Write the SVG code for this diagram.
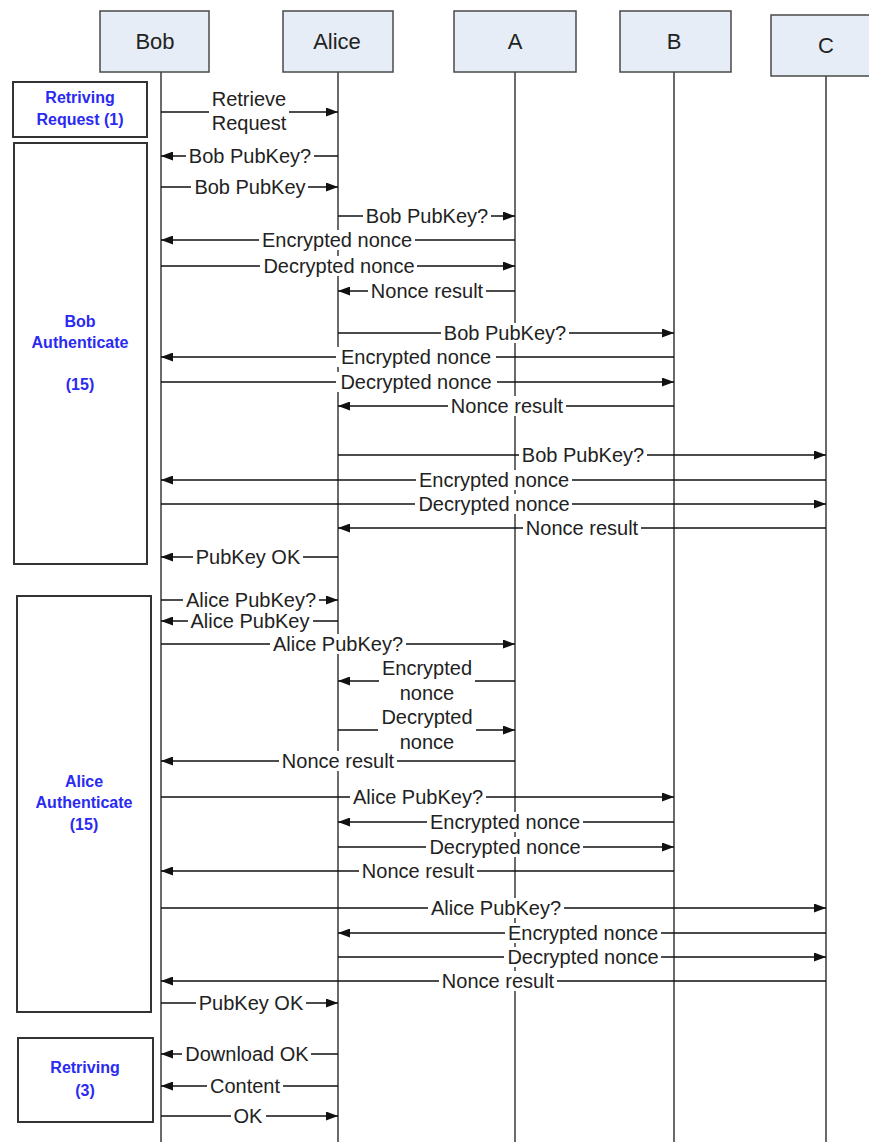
<svg xmlns="http://www.w3.org/2000/svg" width="869" height="1142" viewBox="0 0 869 1142">
<style>
.bg{fill:#ffffff}
.hdr{fill:#e6edf7;stroke:#4a4a4a;stroke-width:1.5}
.htxt{font-family:"Liberation Sans",Arial,sans-serif;font-size:22px;fill:#222;text-anchor:middle}
.life{stroke:#3a3a3a;stroke-width:1.5;fill:none}
.grp{fill:#ffffff;stroke:#333;stroke-width:2}
.gtxt{font-family:"Liberation Sans",Arial,sans-serif;font-size:16px;font-weight:bold;fill:#2a2af2;text-anchor:middle}
.msg{stroke:#111;stroke-width:1.4;fill:none;marker-end:url(#ah)}
.lbg{fill:#ffffff;stroke:none}
.ltxt{font-family:"Liberation Sans",Arial,sans-serif;font-size:20px;fill:#222;text-anchor:middle}
</style>
<defs>
<marker id="ah" viewBox="0 0 12 9" refX="12" refY="4.5" markerWidth="12" markerHeight="9" markerUnits="userSpaceOnUse" orient="auto">
<path d="M0,0 L12,4.5 L0,9 z" fill="#111"/>
</marker>
</defs>
<rect class="bg" x="0" y="0" width="869" height="1142"/>

<g id="lifelines">
<line class="life" x1="161" y1="72" x2="161" y2="1142"/>
<line class="life" x1="338" y1="72" x2="338" y2="1142"/>
<line class="life" x1="515" y1="72" x2="515" y2="1142"/>
<line class="life" x1="674" y1="72" x2="674" y2="1142"/>
<line class="life" x1="826" y1="76" x2="826" y2="1142"/>
</g>

<g id="node-bob"><rect class="hdr" x="100" y="11" width="109" height="61"/><text class="htxt" x="155" y="49">Bob</text></g>
<g id="node-alice"><rect class="hdr" x="283" y="11" width="110" height="61"/><text class="htxt" x="337" y="49">Alice</text></g>
<g id="node-a"><rect class="hdr" x="454" y="11" width="122" height="61"/><text class="htxt" x="515" y="49">A</text></g>
<g id="node-b"><rect class="hdr" x="620" y="11" width="111" height="61"/><text class="htxt" x="674" y="49">B</text></g>
<g id="node-c"><rect class="hdr" x="771" y="15" width="110" height="61"/><text class="htxt" x="826" y="53">C</text></g>

<g id="phase-retrieving-request"><rect class="grp" x="13" y="82" width="134" height="55"/>
<text class="gtxt" x="80" y="103">Retriving</text><text class="gtxt" x="80" y="125">Request (1)</text></g>
<g id="phase-bob-auth"><rect class="grp" x="14" y="143" width="133" height="421"/>
<text class="gtxt" x="80" y="327">Bob</text><text class="gtxt" x="80" y="348">Authenticate</text><text class="gtxt" x="80" y="390">(15)</text></g>
<g id="phase-alice-auth"><rect class="grp" x="17" y="596" width="134" height="416"/>
<text class="gtxt" x="84" y="787">Alice</text><text class="gtxt" x="84" y="808">Authenticate</text><text class="gtxt" x="84" y="830">(15)</text></g>
<g id="phase-retrieving"><rect class="grp" x="18" y="1038" width="135" height="84"/>
<text class="gtxt" x="85" y="1073">Retriving</text><text class="gtxt" x="85" y="1096">(3)</text></g>

<g id="connectors">
<line class="msg" x1="161" y1="112" x2="338" y2="112"/>
<line class="msg" x1="338" y1="156" x2="161" y2="156"/>
<line class="msg" x1="161" y1="187" x2="338" y2="187"/>
<line class="msg" x1="338" y1="216" x2="515" y2="216"/>
<line class="msg" x1="515" y1="240" x2="161" y2="240"/>
<line class="msg" x1="161" y1="266" x2="515" y2="266"/>
<line class="msg" x1="515" y1="291" x2="338" y2="291"/>
<line class="msg" x1="338" y1="333" x2="674" y2="333"/>
<line class="msg" x1="674" y1="357" x2="161" y2="357"/>
<line class="msg" x1="161" y1="382" x2="674" y2="382"/>
<line class="msg" x1="674" y1="406" x2="338" y2="406"/>
<line class="msg" x1="338" y1="455" x2="826" y2="455"/>
<line class="msg" x1="826" y1="480" x2="161" y2="480"/>
<line class="msg" x1="161" y1="504" x2="826" y2="504"/>
<line class="msg" x1="826" y1="528" x2="338" y2="528"/>
<line class="msg" x1="338" y1="557" x2="161" y2="557"/>
<line class="msg" x1="161" y1="600" x2="338" y2="600"/>
<line class="msg" x1="338" y1="621" x2="161" y2="621"/>
<line class="msg" x1="161" y1="644" x2="515" y2="644"/>
<line class="msg" x1="515" y1="681" x2="338" y2="681"/>
<line class="msg" x1="338" y1="730" x2="515" y2="730"/>
<line class="msg" x1="515" y1="761" x2="161" y2="761"/>
<line class="msg" x1="161" y1="797" x2="674" y2="797"/>
<line class="msg" x1="674" y1="822" x2="338" y2="822"/>
<line class="msg" x1="338" y1="847" x2="674" y2="847"/>
<line class="msg" x1="674" y1="871" x2="161" y2="871"/>
<line class="msg" x1="161" y1="908" x2="826" y2="908"/>
<line class="msg" x1="826" y1="933" x2="338" y2="933"/>
<line class="msg" x1="338" y1="957" x2="826" y2="957"/>
<line class="msg" x1="826" y1="981" x2="161" y2="981"/>
<line class="msg" x1="161" y1="1003" x2="338" y2="1003"/>
<line class="msg" x1="338" y1="1054" x2="161" y2="1054"/>
<line class="msg" x1="338" y1="1086" x2="161" y2="1086"/>
<line class="msg" x1="161" y1="1116" x2="338" y2="1116"/>
</g>

<g id="labels">
<rect class="lbg" x="209" y="91" width="80" height="44"/><text class="ltxt" x="249" y="106">Retrieve</text><text class="ltxt" x="249" y="130">Request</text>
<rect class="lbg" x="186" y="146" width="128" height="20"/><text class="ltxt" x="250" y="163">Bob PubKey?</text>
<rect class="lbg" x="191" y="177" width="117" height="20"/><text class="ltxt" x="250" y="194">Bob PubKey</text>
<rect class="lbg" x="363" y="206" width="128" height="20"/><text class="ltxt" x="427" y="223">Bob PubKey?</text>
<rect class="lbg" x="259" y="230" width="156" height="20"/><text class="ltxt" x="337" y="247">Encrypted nonce</text>
<rect class="lbg" x="260" y="256" width="157" height="20"/><text class="ltxt" x="339" y="273">Decrypted nonce</text>
<rect class="lbg" x="368" y="281" width="118" height="20"/><text class="ltxt" x="427" y="298">Nonce result</text>
<rect class="lbg" x="441" y="323" width="128" height="20"/><text class="ltxt" x="505" y="340">Bob PubKey?</text>
<rect class="lbg" x="336" y="347" width="160" height="20"/><text class="ltxt" x="416" y="364">Encrypted nonce</text>
<rect class="lbg" x="336" y="372" width="161" height="20"/><text class="ltxt" x="416" y="389">Decrypted nonce</text>
<rect class="lbg" x="448" y="396" width="118" height="20"/><text class="ltxt" x="507" y="413">Nonce result</text>
<rect class="lbg" x="519" y="445" width="128" height="20"/><text class="ltxt" x="583" y="462">Bob PubKey?</text>
<rect class="lbg" x="416" y="470" width="156" height="20"/><text class="ltxt" x="494" y="487">Encrypted nonce</text>
<rect class="lbg" x="415" y="494" width="157" height="20"/><text class="ltxt" x="494" y="511">Decrypted nonce</text>
<rect class="lbg" x="523" y="518" width="118" height="20"/><text class="ltxt" x="582" y="535">Nonce result</text>
<rect class="lbg" x="193" y="547" width="110" height="20"/><text class="ltxt" x="248" y="564">PubKey OK</text>
<rect class="lbg" x="183" y="590" width="136" height="20"/><text class="ltxt" x="251" y="607">Alice PubKey?</text>
<rect class="lbg" x="188" y="611" width="125" height="20"/><text class="ltxt" x="250" y="628">Alice PubKey</text>
<rect class="lbg" x="270" y="634" width="136" height="20"/><text class="ltxt" x="338" y="651">Alice PubKey?</text>
<rect class="lbg" x="379" y="660" width="96" height="45"/><text class="ltxt" x="427" y="675">Encrypted</text><text class="ltxt" x="427" y="700">nonce</text>
<rect class="lbg" x="378" y="708" width="98" height="45"/><text class="ltxt" x="427" y="724">Decrypted</text><text class="ltxt" x="427" y="749">nonce</text>
<rect class="lbg" x="279" y="751" width="118" height="20"/><text class="ltxt" x="338" y="768">Nonce result</text>
<rect class="lbg" x="350" y="787" width="136" height="20"/><text class="ltxt" x="418" y="804">Alice PubKey?</text>
<rect class="lbg" x="427" y="812" width="156" height="20"/><text class="ltxt" x="505" y="829">Encrypted nonce</text>
<rect class="lbg" x="426" y="837" width="157" height="20"/><text class="ltxt" x="505" y="854">Decrypted nonce</text>
<rect class="lbg" x="359" y="861" width="118" height="20"/><text class="ltxt" x="418" y="878">Nonce result</text>
<rect class="lbg" x="428" y="898" width="136" height="20"/><text class="ltxt" x="496" y="915">Alice PubKey?</text>
<rect class="lbg" x="505" y="923" width="156" height="20"/><text class="ltxt" x="583" y="940">Encrypted nonce</text>
<rect class="lbg" x="504" y="947" width="157" height="20"/><text class="ltxt" x="583" y="964">Decrypted nonce</text>
<rect class="lbg" x="439" y="971" width="118" height="20"/><text class="ltxt" x="498" y="988">Nonce result</text>
<rect class="lbg" x="196" y="993" width="110" height="20"/><text class="ltxt" x="251" y="1010">PubKey OK</text>
<rect class="lbg" x="182" y="1044" width="129" height="20"/><text class="ltxt" x="247" y="1061">Download OK</text>
<rect class="lbg" x="207" y="1076" width="76" height="20"/><text class="ltxt" x="245" y="1093">Content</text>
<rect class="lbg" x="231" y="1106" width="35" height="20"/><text class="ltxt" x="248" y="1123">OK</text>
</g>
</svg>
